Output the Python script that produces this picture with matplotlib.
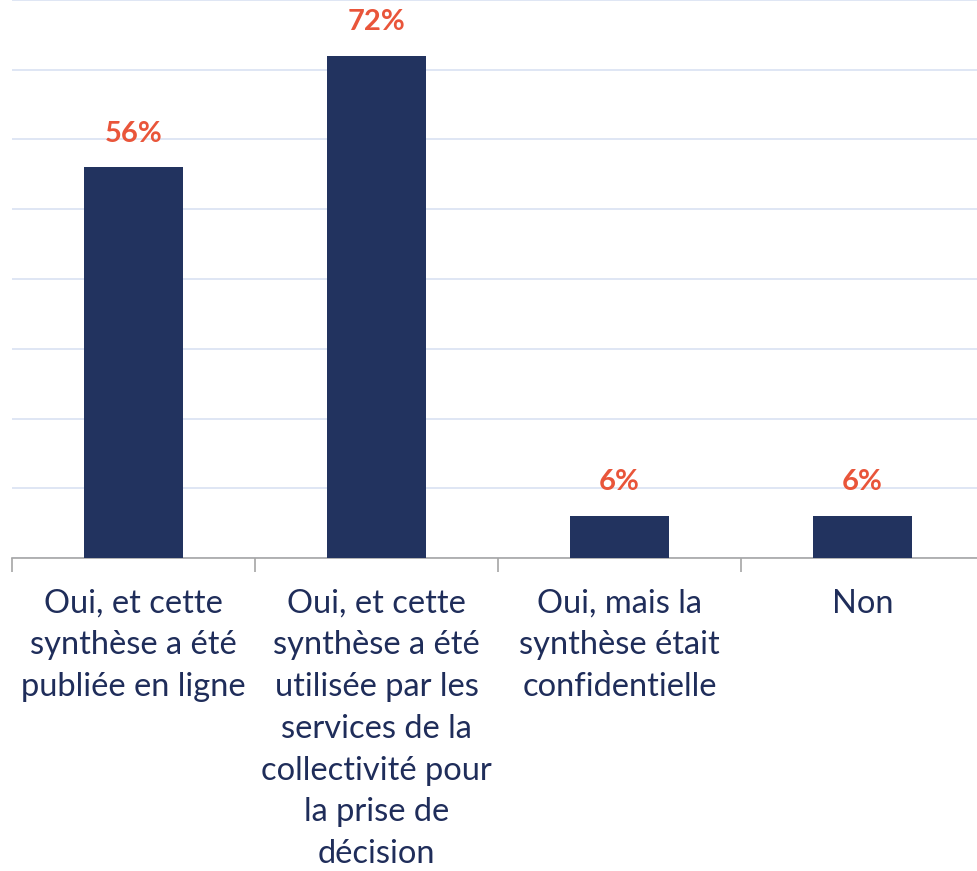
import matplotlib.pyplot as plt
import numpy as np

# donnees
categories = [
    "Oui, et cette\nsynthèse a été\npubliée en ligne",
    "Oui, et cette\nsynthèse a été\nutilisée par les\nservices de la\ncollectivité pour\nla prise de\ndécision",
    "Oui, mais la\nsynthèse était\nconfidentielle",
    "Non",
]
valeurs = [0.56, 0.72, 0.06, 0.06]

couleur_barre = '#22335F'
couleur_label = '#E9553A'
couleur_texte = '#1F2D5A'

plt.rcParams['font.family'] = ['Lato', 'DejaVu Sans']

fig = plt.figure(figsize=(9.78, 8.71), dpi=100)
ax = fig.add_axes([12/978, 313/871, 972/978, 558/871])

x = np.arange(len(categories))
barres = ax.bar(x, valeurs, width=0.41, color=couleur_barre, zorder=3)

for b, v in zip(barres, valeurs):
	ax.annotate(f"{v*100:.0f}%", (b.get_x() + b.get_width()/2, v),
	            xytext=(0, 15), textcoords='offset points',
	            ha='center', va='bottom', fontsize=21, fontweight='bold',
	            color=couleur_label)

ax.set_xlim(-0.5, 3.5)
ax.set_ylim(0, 0.8)
ax.set_yticks(np.arange(0, 0.81, 0.1))
ax.yaxis.grid(True, color='#D9E1F2', linewidth=1.2, zorder=0)
ax.tick_params(axis='y', left=False, labelleft=False)

ax.set_xticks(x)
ax.set_xticklabels(categories, fontsize=23.5, color=couleur_texte, linespacing=1.49)
ax.tick_params(axis='x', which='major', length=0, pad=22)
ax.set_xticks(np.arange(-0.5, 3.6, 1), minor=True)
ax.tick_params(axis='x', which='minor', length=10, color='#A6A6A6', width=1.2)

for s in ['top', 'right', 'left']:
	ax.spines[s].set_visible(False)
ax.spines['bottom'].set_color('#A6A6A6')
ax.spines['bottom'].set_linewidth(1.2)

fig.savefig('out.png', dpi=100)
